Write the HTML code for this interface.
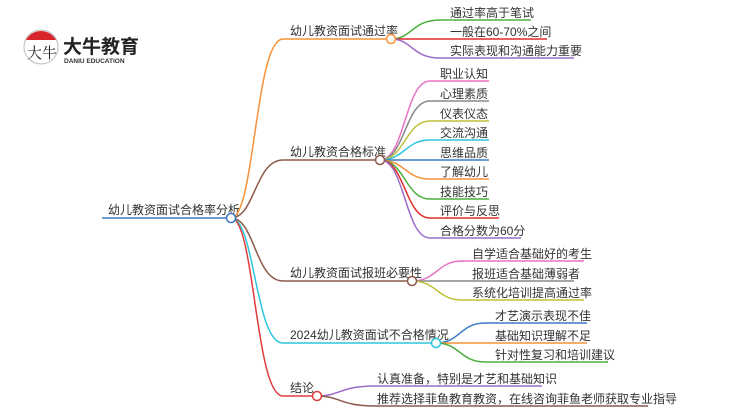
<!DOCTYPE html>
<html><head><meta charset="utf-8"><style>
html,body{margin:0;padding:0;background:#fff;width:750px;height:410px;overflow:hidden}
svg text{font-family:"Liberation Sans","Noto Sans CJK SC",sans-serif;font-size:12px;fill:#333}
</style></head><body>
<svg width="750" height="410" viewBox="0 0 750 410" xmlns="http://www.w3.org/2000/svg" fill="none" stroke-width="1.5">
<!-- logo -->
<circle cx="41" cy="47" r="17" stroke="#bbb" stroke-width="1" fill="#fff"/>
<path d="M26 40 A17 17 0 0 1 56 40 Z" fill="#d9262c" stroke="none"/>
<text x="27" y="58" style="font-size:15px;fill:#222;font-family:'Noto Serif CJK SC',serif">大牛</text>
<text x="63" y="53" style="font-size:19px;font-weight:bold;fill:#222">大牛教育</text>
<text x="64" y="63" style="font-size:6.5px;font-weight:bold;fill:#333">DANIU EDUCATION</text>

<!-- root -->
<path d="M102 218 L231 218" stroke="#3a7bc8"/>
<text x="108" y="214">幼儿教资面试合格率分析</text>

<!-- main branches -->
<path d="M231 218 C255 218 255 39 283 39 L391 39" stroke="#f7923a"/>
<path d="M231 218 C255 218 255 160 283 160 L380 160" stroke="#8d5a4b"/>
<path d="M231 218 C255 218 255 281 283 281 L412 281" stroke="#8d5a4b"/>
<path d="M231 218 C255 218 255 343 283 343 L436 343" stroke="#2bc5dc"/>
<path d="M231 218 C255 218 255 396 283 396 L317 396" stroke="#e03c3c"/>
<circle cx="231" cy="218" r="4.5" stroke="#3a7bc8" fill="#fff"/>

<text x="290" y="35">幼儿教资面试通过率</text>
<text x="290" y="156">幼儿教资合格标准</text>
<text x="290" y="277">幼儿教资面试报班必要性</text>
<text x="290" y="339">2024幼儿教资面试不合格情况</text>
<text x="290" y="392">结论</text>

<!-- branch1 children -->
<path d="M391 39 C412 39 412 20 440 20 L531 20" stroke="#4caf3f"/>
<path d="M391 39 L547 39" stroke="#e02b2b"/>
<path d="M391 39 C412 39 412 58 440 58 L574 58" stroke="#9b6bc9"/>
<circle cx="391" cy="39" r="4.5" stroke="#f7923a" fill="#fff"/>
<text x="450" y="17">通过率高于笔试</text>
<text x="450" y="36">一般在60-70%之间</text>
<text x="450" y="55">实际表现和沟通能力重要</text>

<!-- branch2 children -->
<path d="M380 160 C405 160 405 81 430 81 L489 81" stroke="#e872c8"/>
<path d="M380 160 C405 160 405 101 430 101 L489 101" stroke="#888"/>
<path d="M380 160 C405 160 405 121 430 121 L489 121" stroke="#c0c03a"/>
<path d="M380 160 C405 160 405 140 430 140 L489 140" stroke="#2bc5dc"/>
<path d="M380 160 L489 160" stroke="#3a7bc8"/>
<path d="M380 160 C405 160 405 179 430 179 L489 179" stroke="#f7923a"/>
<path d="M380 160 C405 160 405 199 430 199 L489 199" stroke="#4caf3f"/>
<path d="M380 160 C405 160 405 218 430 218 L499 218" stroke="#e02b2b"/>
<path d="M380 160 C405 160 405 238 430 238 L521 238" stroke="#9b6bc9"/>
<circle cx="380" cy="160" r="4.5" stroke="#8d5a4b" fill="#fff"/>
<text x="440" y="78">职业认知</text>
<text x="440" y="98">心理素质</text>
<text x="440" y="118">仪表仪态</text>
<text x="440" y="137">交流沟通</text>
<text x="440" y="157">思维品质</text>
<text x="440" y="176">了解幼儿</text>
<text x="440" y="196">技能技巧</text>
<text x="440" y="215">评价与反思</text>
<text x="440" y="235">合格分数为60分</text>

<!-- branch3 children -->
<path d="M412 281 C437 281 437 261 462 261 L584 261" stroke="#e872c8"/>
<path d="M412 281 L574 281" stroke="#888"/>
<path d="M412 281 C437 281 437 300 462 300 L584 300" stroke="#c0c03a"/>
<circle cx="412" cy="281" r="4.5" stroke="#8d5a4b" fill="#fff"/>
<text x="472" y="258">自学适合基础好的考生</text>
<text x="472" y="278">报班适合基础薄弱者</text>
<text x="472" y="297">系统化培训提高通过率</text>

<!-- branch4 children -->
<path d="M436 343 C460 343 460 323 485 323 L587 323" stroke="#3a7bc8"/>
<path d="M436 343 L587 343" stroke="#f7923a"/>
<path d="M436 343 C460 343 460 362 485 362 L608 362" stroke="#4caf3f"/>
<circle cx="436" cy="343" r="4.5" stroke="#2bc5dc" fill="#fff"/>
<text x="495" y="320">才艺演示表现不佳</text>
<text x="495" y="340">基础知识理解不足</text>
<text x="495" y="359">针对性复习和培训建议</text>

<!-- branch5 children -->
<path d="M317 396 C340 396 340 386 375 386 L542 386" stroke="#9b6bc9"/>
<path d="M317 396 C340 396 340 406 375 406 L648 406" stroke="#8d5a4b"/>
<circle cx="317" cy="396" r="4.5" stroke="#e03c3c" fill="#fff"/>
<text x="377" y="383">认真准备，特别是才艺和基础知识</text>
<text x="377" y="403">推荐选择菲鱼教育教资，在线咨询菲鱼老师获取专业指导</text>
</svg>
</body></html>
